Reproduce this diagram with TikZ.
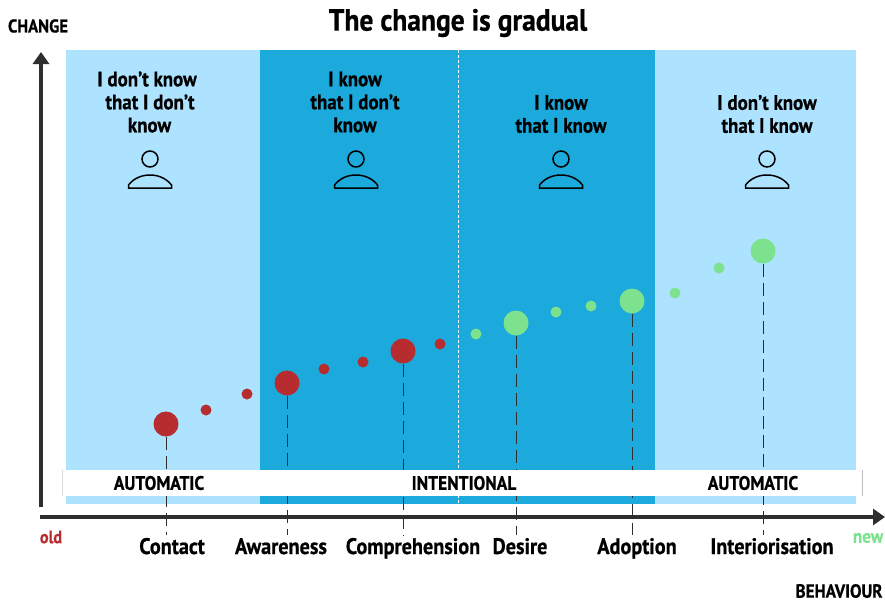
\documentclass[tikz,border=0pt]{standalone}
\usepackage{fontspec}
\setmainfont[FakeStretch=0.9,BoldFeatures={FakeBold=0.6}]{PT Sans}
\usetikzlibrary{arrows.meta}

\definecolor{paleblue}{HTML}{ADE3FF}
\definecolor{deepblue}{HTML}{1CA9DC}
\definecolor{oldred}{HTML}{B72C2F}
\definecolor{newgreen}{HTML}{7DE28D}
\definecolor{axisgray}{HTML}{2F2D2E}

\tikzset{
  word/.style={font=\bfseries\fontsize{21}{23}\selectfont, align=center, inner sep=0pt},
  stage/.style={font=\bfseries\fontsize{22.5}{24}\selectfont, inner sep=0pt, anchor=base},
  band/.style={font=\bfseries\fontsize{19.4}{20}\selectfont, inner sep=0pt},
  axisname/.style={font=\bfseries\fontsize{18.5}{20}\selectfont, inner sep=0pt},
  bigdot/.style={circle, minimum size=25pt, inner sep=0pt},
  smalldot/.style={circle, minimum size=11pt, inner sep=0pt},
  axisline/.style={draw=axisgray, line width=3.2pt, -{Triangle[length=12pt,width=16pt]}},
  droplin/.style={draw=axisgray, line width=1pt, dash pattern=on 13pt off 6pt},
  person/.style={draw=black, line width=1.5pt}
}

\begin{document}
\begin{tikzpicture}[x=1pt, y=-1pt]
   \useasboundingbox (0,0) rectangle (885,602);

   % draw panels
   \fill[paleblue] (66,50) rectangle (856,504);
   \fill[deepblue] (260,50) rectangle (655,504);
   \draw[white, densely dashed, line width=.6pt] (458,50) -- (458,504);

   % draw dots
   \foreach \name/\x/\y in {contact/166/424, awareness/287/383, comprehension/403/351}
     \node[bigdot, fill=oldred] (\name) at (\x,\y) {};
   \foreach \name/\x/\y in {desire/516/323, adoption/632/301, interior/763/251}
     \node[bigdot, fill=newgreen] (\name) at (\x,\y) {};
   \foreach \name/\x/\y in {ra/206/410, rb/247/394, rc/324/369, rd/363/362, re/440/344}
     \node[smalldot, fill=oldred] (\name) at (\x,\y) {};
   \foreach \name/\x/\y in {ga/476/334, gb/556/312, gc/591/306, gd/675/293, ge/719/268}
     \node[smalldot, fill=newgreen] (\name) at (\x,\y) {};

   % draw vertical lines
   \foreach \name in {contact,awareness,comprehension,desire,adoption,interior} {
     \coordinate (\name end) at (\name |- 0,535);
     \draw[droplin] (\name) -- (\name end);
   }

   % draw white band
   \fill[white] (62.5,470) rectangle (862,496);
   \draw[black!15, line width=.4pt] (62.5,496) -- (62.5,470);
   \draw[black!25, line width=.4pt] (862,470) -- (862,496);
   \node[band] (autoleft) at (159,483) {AUTOMATIC};
   \node[band] (intent) at (464,483) {INTENTIONAL};
   \node[band] (autoright) at (753,483) {AUTOMATIC};

   % draw axes
   \coordinate (origin) at (41,507);
   \coordinate (top) at (41,52);
   \coordinate (xstart) at (40,517);
   \coordinate (xtip) at (885,517);
   \draw[axisline] (origin) -- (top);
   \draw[axisline] (xstart) -- (xtip);

   % draw texts
   \node[font=\bfseries\fontsize{30.6}{34}\selectfont, inner sep=0pt] (title) at (458,23) {The change is gradual};
   \node[axisname] (ylabel) at (38,26) {CHANGE};
   \node[axisname, font=\bfseries\fontsize{19}{20}\selectfont] (xlabel) at (839,591) {BEHAVIOUR};
   \node[font=\bfseries\fontsize{18}{20}\selectfont, text=oldred, inner sep=0pt] (old) at (51,537) {old};
   \node[font=\bfseries\fontsize{19}{20}\selectfont, text=newgreen, inner sep=0pt] (new) at (868,538) {new};

   \node[word] (know1) at (147,102) {I don't know\\ \hspace{6pt}that I don't\\ \hspace{5pt}know};
   \node[word] (know2) at (355,102) {I know\\ that I don't\\ know};
   \node[word] (know3) at (561,114) {I know\\ that I know};
   \node[word] (know4) at (767,114) {I don't know\\ that I know};

   \node[stage] (lab1) at (172,554) {Contact};
   \node[stage] (lab2) at (281,554) {Awareness};
   \node[stage] (lab3) at (413,554) {Comprehension};
   \node[stage] (lab4) at (520,554) {Desire};
   \node[stage] (lab5) at (637,554) {Adoption};
   \node[stage] (lab6) at (772,554) {Interiorisation};

   % draw persons
   \foreach \x in {150,356,561,767} {
     \draw[person] (\x,159) circle (8);
     \draw[person] (\x-21.5,188) -- (\x+21.5,188) -- (\x+21.5,185)
       .. controls (\x+16,178) and (\x+8,175) .. (\x,175)
       .. controls (\x-8,175) and (\x-16,178) .. (\x-21.5,185) -- cycle;
   }
\end{tikzpicture}
\end{document}
